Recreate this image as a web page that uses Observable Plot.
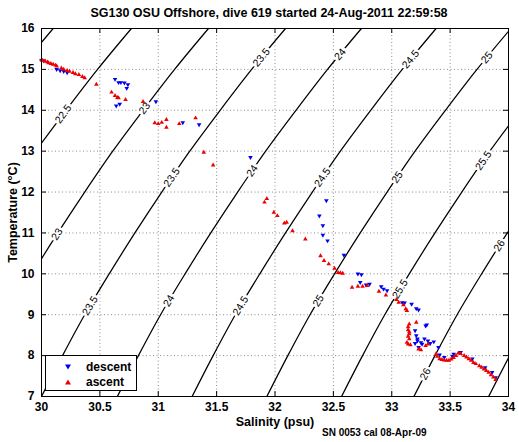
<!DOCTYPE html>
<html>
<head>
<meta charset="utf-8">
<script src="https://cdn.jsdelivr.net/npm/d3@7"></script>
<script src="https://cdn.jsdelivr.net/npm/@observablehq/plot@0.6"></script>
<style>
  body { margin: 0; background: #fff; font-family: "Liberation Sans", Arial, Helvetica, sans-serif; }
  #wrap { position: relative; width: 519px; height: 442px; overflow: hidden; }
  #title { position: relative; height: 20px; margin-left: 41px; width: 456px; text-align: center;
           font-weight: bold; font-size: 12.5px; line-height: 14px; padding-top: 6px; box-sizing: border-box; color: #000; white-space: nowrap; }
  #legend { position: absolute; left: 45px; top: 355px; width: 92px; height: 36px; box-sizing: border-box;
            border: 1px solid #000; background: #fff; font-weight: bold; font-size: 12px; color: #000; }
  #legend .row { position: absolute; left: 0; height: 14px; line-height: 14px; }
  #legend svg { position: absolute; left: 19px; top: 4px; }
  #legend span { position: absolute; left: 40px; top: 0; white-space: nowrap; }
  #caption { position: absolute; left: 322px; top: 427px; font-weight: bold; font-size: 10px; line-height: 12px; color: #000; white-space: nowrap; }
</style>
</head>
<body>
<div id="wrap">
  <div id="title">SG130 OSU Offshore, dive 619 started 24-Aug-2011 22:59:58</div>
  <div id="chart"></div>
  <div id="legend">
    <div class="row" style="top:4px"><svg width="6" height="6"><path d="M0,0.5L6,0.5L3,5.5Z" fill="#0000ee"/></svg><span>descent</span></div>
    <div class="row" style="top:19px"><svg width="6" height="6"><path d="M0,5.5L6,5.5L3,0.5Z" fill="#ee0000"/></svg><span>ascent</span></div>
  </div>
  <div id="caption">SN 0053 cal 08-Apr-09</div>
</div>
<script>
// ---------- axis ticks ----------
const xTicks = [30, 30.5, 31, 31.5, 32, 32.5, 33, 33.5, 34];
const yTicks = [7, 8, 9, 10, 11, 12, 13, 14, 15, 16];

// ---------- descent (blue) samples: salinity, temperature ----------
const descS = [30.00,30.02,30.13,30.16,30.19,30.22,
  30.63,30.66,30.68,30.71,30.74,30.73,30.64,30.67,30.98,
  31.21,31.35,31.79,
  32.44,32.38,32.41,32.41,32.45,32.59,
  32.71,32.74,32.73,32.78,32.81,
  32.91,32.93,32.96,33.09,33.11,33.17,33.21,33.23,
  33.30,33.29,33.20,33.21,33.22,33.22,33.25,33.26,33.28,33.31,33.33,33.36,33.20,33.23,33.40,
  33.41,33.45,33.52,33.53,33.59,33.69,33.80,33.86,33.89];
const descT = [15.22,15.21,15.00,14.97,14.95,14.92,
  14.76,14.68,14.68,14.67,14.63,14.54,14.11,14.15,14.21,
  13.70,13.65,12.85,
  11.79,11.42,11.18,10.95,10.81,10.46,
  10.00,9.98,9.79,9.73,9.75,
  9.69,9.63,9.59,9.30,9.29,9.26,9.15,9.12,
  8.75,8.73,8.61,8.49,8.41,8.36,8.32,8.28,8.41,8.36,8.30,8.34,8.30,8.20,8.20,
  8.02,7.96,7.98,8.04,8.08,7.92,7.71,7.59,7.46];

// ---------- ascent (red) samples ----------
const ascS = [30.00,30.01,30.03,30.05,30.06,30.08,30.10,30.12,30.13,30.17,30.19,30.22,30.24,30.27,30.29,30.32,30.35,30.37,30.47,
  30.60,30.63,30.65,30.66,30.72,30.87,
  30.97,31.00,31.03,31.07,31.07,31.18,31.32,
  31.39,31.47,
  31.91,31.93,31.99,32.02,32.08,32.10,32.15,32.26,
  32.39,32.42,32.46,32.51,32.54,32.56,32.58,
  32.66,32.71,32.75,32.79,
  32.89,32.95,33.04,33.06,33.10,33.12,33.13,
  33.15,33.14,33.14,33.15,33.15,33.14,33.15,33.13,33.14,33.16,33.21,33.23,33.25,33.29,33.31,
  33.38,33.39,33.41,33.43,33.45,33.47,33.49,33.51,33.53,33.55,33.57,33.59,33.62,33.64,33.66,33.68,33.70,33.72,33.75,33.77,33.79,33.81,33.83,33.85,33.87,33.89];
const ascT = [15.23,15.22,15.20,15.18,15.16,15.14,15.12,15.10,15.08,15.03,15.00,14.97,14.95,14.92,14.89,14.87,14.82,14.79,14.63,
  14.44,14.36,14.31,14.30,14.26,14.21,
  13.69,13.67,13.70,13.77,13.58,13.67,13.81,
  12.97,12.66,
  11.75,11.84,11.50,11.42,11.24,11.26,11.05,10.85,
  10.44,10.32,10.24,10.13,10.03,10.02,10.01,
  9.67,9.69,9.69,9.71,
  9.57,9.48,9.37,9.30,9.24,9.14,9.10,
  8.77,8.70,8.63,8.58,8.53,8.47,8.41,8.32,8.28,8.26,8.81,8.16,8.14,8.24,8.28,
  8.04,7.98,7.92,7.90,7.89,7.88,7.88,7.91,7.95,8.00,8.06,8.05,8.00,7.96,7.92,7.88,7.83,7.80,7.75,7.71,7.67,7.63,7.59,7.53,7.47,7.41];

// ---------- isopycnals (sigma-theta), salinity read at each temperature ----------
const isoT = [7, 8, 9, 10, 11, 12, 13, 14, 15, 16];
const sigmaLevels = ["22", "22.5", "23", "23.5", "24", "24.5", "25", "25.5", "26", "26.5"];
const isoS = [
  [28.01,28.19,28.38,28.59,28.81,29.04,29.28,29.54,29.81,30.10],
  [28.68,28.86,29.05,29.26,29.48,29.71,29.95,30.21,30.48,30.77],
  [29.34,29.52,29.71,29.92,30.14,30.37,30.61,30.87,31.14,31.43],
  [30.00,30.18,30.37,30.58,30.80,31.03,31.27,31.53,31.80,32.09],
  [30.65,30.83,31.02,31.23,31.45,31.68,31.92,32.18,32.45,32.74],
  [31.29,31.47,31.66,31.87,32.09,32.32,32.56,32.82,33.09,33.38],
  [31.93,32.11,32.30,32.51,32.73,32.96,33.20,33.46,33.73,34.02],
  [32.57,32.75,32.94,33.15,33.37,33.60,33.84,34.10,34.37,34.66],
  [33.19,33.37,33.56,33.77,33.99,34.22,34.46,34.72,34.99,35.28],
  [33.83,34.01,34.20,34.41,34.63,34.86,35.10,35.36,35.63,35.92]
];
// contour labels: level and temperature where each label sits
const labelSigma = ["22.5","23","23","23.5","23.5","23.5","24","24","24","24.5","24.5","24.5","25","25","25","25.5","25.5","26","26"];
const labelT     = [13.91, 14.05,10.97, 15.29,12.36,9.22, 15.37,12.52,9.34, 15.25,12.36,9.22, 15.29,12.36,9.34, 12.77,9.63, 10.69,7.55];

// ---------- layout ----------
const W = 519, H = 422, mL = 41, mR = 11, mT = 8, mB = 46;
const fw = W - mL - mR, fh = H - mT - mB;
const kx = fw / (xTicks[xTicks.length-1] - xTicks[0]);
const ky = fh / (yTicks[yTicks.length-1] - yTicks[0]);

const desc = descS.map((s, i) => ({S: s, T: descT[i]}));
const asc = ascS.map((s, i) => ({S: s, T: ascT[i]}));
const iso = sigmaLevels.flatMap((lv, i) => isoT.map((t, j) => ({sigma: lv, S: isoS[i][j], T: t})));
const labels = labelSigma.map((lv, i) => {
  const row = isoS[sigmaLevels.indexOf(lv)];
  const t = labelT[i];
  const j = Math.min(Math.floor(t - isoT[0]), isoT.length - 2);
  const f = (t - isoT[j]) / (isoT[j+1] - isoT[j]);
  const dS = (row[j+1] - row[j]) / (isoT[j+1] - isoT[j]);
  const s = row[j] + f * (row[j+1] - row[j]);
  const ang = -Math.atan2(ky, dS * kx) * 180 / Math.PI;
  return {S: s, T: t, text: lv, angle: ang};
});

const triDown = {
  draw(ctx, size) {
    const y = -Math.sqrt(size / (Math.sqrt(3) * 3));
    ctx.moveTo(0, -y * 2);
    ctx.lineTo(-Math.sqrt(3) * y, y);
    ctx.lineTo(Math.sqrt(3) * y, y);
    ctx.closePath();
  }
};

const chart = Plot.plot({
  width: W, height: H,
  marginLeft: mL, marginRight: mR, marginTop: mT, marginBottom: mB,
  x: {domain: [30, 34], label: null},
  y: {domain: [7, 16], label: null},
  style: {fontFamily: "'Liberation Sans', Arial, Helvetica, sans-serif", fontSize: "12px", fontWeight: "bold", color: "#000", background: "#fff", overflow: "visible"},
  marks: [
    Plot.gridX(xTicks.slice(1, -1), {stroke: "#8c8c8c", strokeOpacity: 1, strokeDasharray: "1,2.5"}),
    Plot.gridY(yTicks.slice(1, -1), {stroke: "#8c8c8c", strokeOpacity: 1, strokeDasharray: "1,2.5"}),
    Plot.line(iso, {x: "S", y: "T", z: "sigma", curve: "catmull-rom", stroke: "#000", strokeWidth: 1.25, clip: true}),
    Plot.text(labels, {x: "S", y: "T", text: "text", rotate: "angle", fontSize: 10.5, fontWeight: "normal",
      fill: "#000", stroke: "#fff", strokeWidth: 5, paintOrder: "stroke", clip: true}),
    Plot.dot(desc, {x: "S", y: "T", symbol: triDown, r: 1.7, fill: "#0000ee"}),
    Plot.dot(asc, {x: "S", y: "T", symbol: "triangle", r: 1.7, fill: "#ee0000"}),
    Plot.frame({stroke: "#000", strokeWidth: 1}),
    Plot.tickX(xTicks, {x: d => d, insetTop: fh - 5, stroke: "#000"}),
    Plot.tickX(xTicks, {x: d => d, insetBottom: fh - 5, stroke: "#000"}),
    Plot.tickY(yTicks, {y: d => d, insetRight: fw - 5, stroke: "#000"}),
    Plot.tickY(yTicks, {y: d => d, insetLeft: fw - 5, stroke: "#000"}),
    Plot.axisX(xTicks, {tickSize: 0, tickPadding: 6, tickFormat: d => String(d)}),
    Plot.axisY(yTicks, {tickSize: 0, tickPadding: 7, tickFormat: d => String(d)}),
    Plot.text(["Salinity (psu)"], {frameAnchor: "bottom", dy: 25, lineAnchor: "middle", textAnchor: "middle", fontSize: 12.5, fontWeight: "bold"}),
    Plot.text(["Temperature (°C)"], {frameAnchor: "left", dx: -29, rotate: -90, lineAnchor: "middle", textAnchor: "middle", fontSize: 12.5, fontWeight: "bold"})
  ]
});
document.getElementById("chart").appendChild(chart);
</script>
</body>
</html>
